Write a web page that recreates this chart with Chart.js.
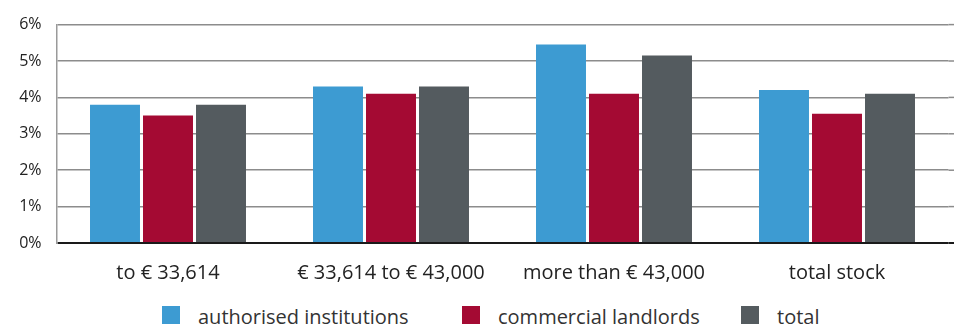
<!DOCTYPE html>
<html>
<head>
<meta charset="utf-8">
<script src="https://cdn.jsdelivr.net/npm/chart.js@4/dist/chart.umd.min.js"></script>
<style>
  html, body { margin: 0; padding: 0; background: #fff; }
  #wrap { position: relative; width: 954px; height: 330px; font-family: "Open Sans", sans-serif; }
  #chart { position: absolute; left: 0; top: 0; }
  .key { position: absolute; top: 306px; font-size: 20px; line-height: 20px; color: #333; white-space: nowrap; }
  .key i { display: inline-block; width: 18px; height: 18px; margin-right: 18px; }
</style>
</head>
<body>
<div id="wrap">
  <canvas id="chart" width="954" height="290"></canvas>
  <div id="legend"></div>
</div>
<script>
const categories = ['to € 33,614', '€ 33,614 to € 43,000', 'more than € 43,000', 'total stock'];
const authorised = [3.8, 4.3, 5.45, 4.2];
const commercial = [3.5, 4.1, 4.1, 3.55];
const totals = [3.8, 4.3, 5.15, 4.1];
const yTicks = [0, 1, 2, 3, 4, 5, 6];

const seriesNames = ['authorised institutions', 'commercial landlords', 'total'];
const seriesColors = ['#3d9bd2', '#a40a33', '#545b5f'];
const legendLeft = [162, 462, 741];

// carry the horizontal grid lines on to the right edge of the canvas
const gridToEdge = {
    id: 'gridToEdge',
    beforeDatasetsDraw(chart) {
        const { ctx, chartArea, scales } = chart;
        ctx.save();
        yTicks.forEach(v => {
            const y = scales.y.getPixelForValue(v);
            ctx.beginPath();
            ctx.strokeStyle = v === 0 ? '#1a1a1a' : '#8c8c8c';
            ctx.lineWidth = v === 0 ? 2 : 1.5;
            ctx.moveTo(chartArea.right, y);
            ctx.lineTo(chart.width, y);
            ctx.stroke();
        });
        ctx.restore();
    }
};

new Chart(document.getElementById('chart'), {
    type: 'bar',
    data: {
        labels: categories,
        datasets: [authorised, commercial, totals].map((d, i) => ({
            label: seriesNames[i],
            data: d,
            backgroundColor: seriesColors[i],
            categoryPercentage: 0.713,
            barPercentage: 0.943
        }))
    },
    options: {
        responsive: false,
        animation: false,
        devicePixelRatio: 1,
        layout: { padding: { top: 22.5, right: 5.5, bottom: 0, left: 1.5 } },
        plugins: {
            legend: { display: false },
            tooltip: { enabled: false }
        },
        scales: {
            x: {
                grid: { display: false },
                border: { display: false },
                ticks: {
                    color: '#222',
                    padding: 10,
                    font: { family: 'Open Sans', size: 20 }
                },
                afterFit(scale) { scale.height = 47; }
            },
            y: {
                min: 0,
                max: 6,
                afterBuildTicks(scale) { scale.ticks = yTicks.map(v => ({ value: v })); },
                grid: {
                    drawTicks: false,
                    color: c => c.tick && c.tick.value === 0 ? '#1a1a1a' : '#8c8c8c',
                    lineWidth: c => c.tick && c.tick.value === 0 ? 2 : 1.5
                },
                border: { display: true, color: '#9a9a9a', width: 1.5 },
                ticks: {
                    color: '#222',
                    padding: 15,
                    font: { family: 'Open Sans', size: 16 },
                    callback: v => v + '%'
                },
                afterFit(scale) { scale.width = 55; }
            }
        }
    },
    plugins: [gridToEdge]
});

// legend row under the chart
const legend = document.getElementById('legend');
seriesNames.forEach((name, i) => {
    const item = document.createElement('div');
    item.className = 'key';
    item.style.left = legendLeft[i] + 'px';
    item.innerHTML = '<i style="background:' + seriesColors[i] + '"></i>' + name;
    legend.appendChild(item);
});
</script>
</body>
</html>
